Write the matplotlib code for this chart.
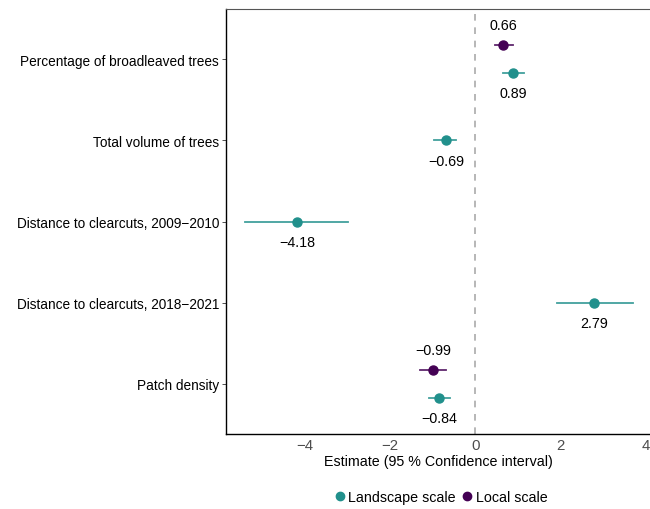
import numpy as np
import matplotlib.pyplot as plt
from matplotlib.lines import Line2D

plt.rcParams['font.family'] = ['Liberation Sans', 'DejaVu Sans']

# data (top to bottom)
variables = ["Percentage of broadleaved trees", "Total volume of trees",
             "Distance to clearcuts, 2009\u22122010", "Distance to clearcuts, 2018\u22122021",
             "Patch density"]
landscape_est = [0.89, -0.69, -4.18, 2.79, -0.84]
landscape_lo = [0.66, -0.96, -5.40, 1.92, -1.08]
landscape_hi = [1.15, -0.45, -2.98, 3.69, -0.59]
local_vars = ["Percentage of broadleaved trees", "Patch density"]
local_est = [0.66, -0.99]
local_lo = [0.47, -1.29]
local_hi = [0.89, -0.68]

teal = "#21908C"
purple = "#440154"

fig = plt.figure(figsize=(6.5, 5.1), dpi=100)
ax = fig.add_axes([226/650, 75/510, 424/650, 425/510])

ypos = {v: len(variables) - i for i, v in enumerate(variables)}
off = 0.17

ax.axvline(0, color="#aaaaaa", ls=(0, (4, 4)), lw=1.2, zorder=0)

for v, e, lo, hi in zip(variables, landscape_est, landscape_lo, landscape_hi):
    y = ypos[v] - (off if v in local_vars else 0)
    ax.plot([lo, hi], [y, y], color=teal, lw=1.3, alpha=0.85)
    ax.plot(e, y, "o", color=teal, ms=6.5)
    ax.text(e, y - 0.25, f"{e:.2f}".replace("-", "\u2212"), ha="center", va="center", fontsize=10.3)

for v, e, lo, hi in zip(local_vars, local_est, local_lo, local_hi):
    y = ypos[v] + off
    ax.plot([lo, hi], [y, y], color=purple, lw=1.3, alpha=0.85)
    ax.plot(e, y, "o", color=purple, ms=6.5)
    ax.text(e, y + 0.25, f"{e:.2f}".replace("-", "\u2212"), ha="center", va="center", fontsize=10.3)

ax.set_xlim(-5.85, 4.1)
ax.set_ylim(0.38, 5.62)
ax.set_yticks([ypos[v] for v in variables])
ax.set_yticklabels(variables, fontsize=9.8, color="black")
ax.set_xticks([-4, -2, 0, 2, 4])
ax.set_xticklabels(["\u22124", "\u22122", "0", "2", "4"], fontsize=10.8, color="#4d4d4d")
ax.tick_params(axis="x", length=0, pad=3)
ax.tick_params(axis="y", length=3, width=0.6, color="#333333", pad=2)
ax.set_xlabel("Estimate (95 % Confidence interval)", fontsize=10.3, labelpad=1)

for s in ["left", "bottom"]:
    ax.spines[s].set_color("black")
    ax.spines[s].set_linewidth(1.0)
ax.spines["top"].set_color("#555555")
ax.spines["top"].set_linewidth(0.8)
ax.spines["right"].set_visible(False)

handles = [Line2D([], [], ls="none", marker="o", color=teal, ms=6, label="Landscape scale"),
           Line2D([], [], ls="none", marker="o", color=purple, ms=6, label="Local scale")]
fig.legend(handles=handles, loc="center", bbox_to_anchor=(440/650, 1 - 498/510), ncol=2,
           frameon=False, fontsize=10.3, handletextpad=0.1, columnspacing=0.3, handlelength=1)

fig.savefig("out.png", dpi=100)
